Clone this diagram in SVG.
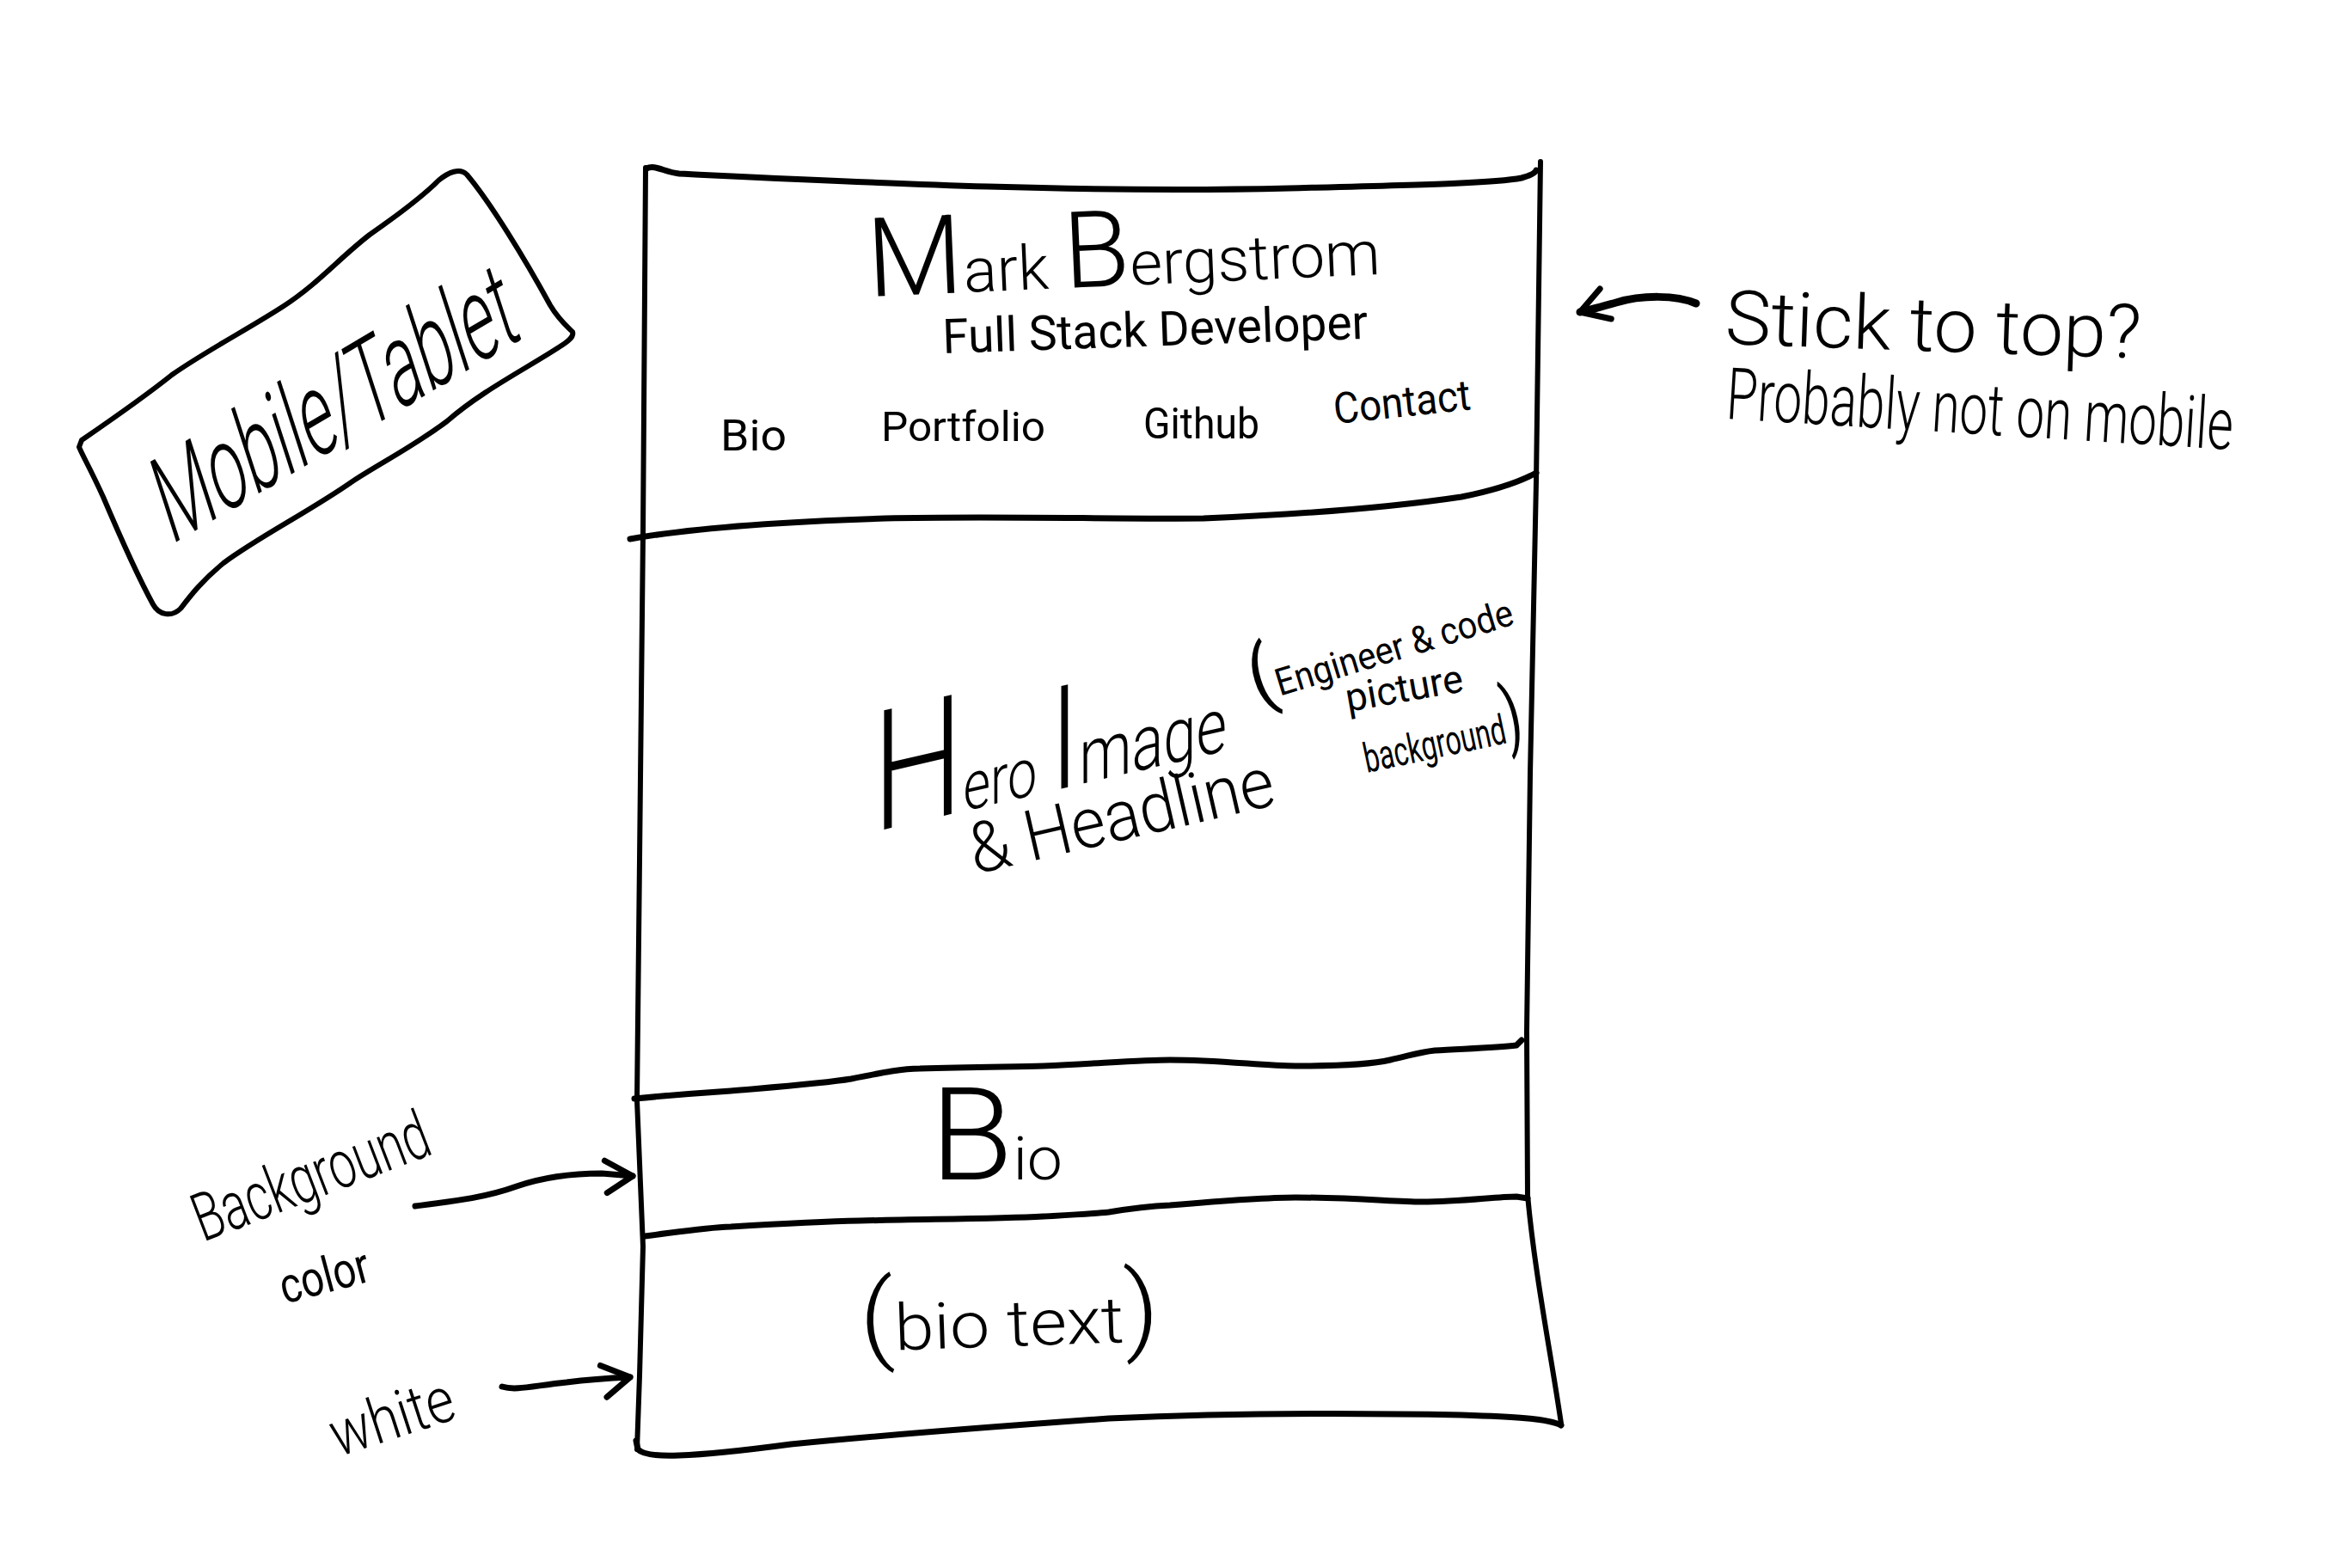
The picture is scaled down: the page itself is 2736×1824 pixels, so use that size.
<svg xmlns="http://www.w3.org/2000/svg" width="2736" height="1824" viewBox="0 0 2736 1824">
<defs>
<style>
.ln{fill:none;stroke:#000;stroke-linecap:round;stroke-linejoin:round}
.fr{stroke-width:6}
.ed{stroke-width:7}
.ar{stroke-width:7}
.hw{font-family:Roboto,"Liberation Sans","DejaVu Sans",sans-serif;font-weight:300;fill:#000}
.hs{font-family:Roboto,"Liberation Sans","DejaVu Sans",sans-serif;font-weight:400;fill:#000}
</style>
<marker id="ah" markerUnits="userSpaceOnUse" viewBox="-40 -30 50 60" refX="0" refY="0" markerWidth="50" markerHeight="60" orient="auto" overflow="visible">
<path d="M-34,-15 L0,0 L-28,22" fill="none" stroke="#000" stroke-width="7" stroke-linecap="round" stroke-linejoin="round"/>
</marker>
</defs>
<rect width="2736" height="1824" fill="#fff"/>

<g id="device-label">
<path class="ln fr" d="M95,512 C130,488 170,460 200,436 C240,408 290,382 330,356 C370,330 395,300 430,273 C470,245 495,225 510,210 C522,200 535,195 543,203 C570,235 610,300 640,355 C650,372 660,380 666,386 C668,392 660,398 650,404 C610,430 560,455 520,490 C480,520 440,540 410,560 C360,595 300,625 260,655 C235,675 220,695 210,708 C200,718 185,716 178,703 C160,670 140,625 120,578 C105,545 95,528 92,520 Z"/>
<text class="hw" font-size="138" transform="matrix(0.862 -0.508 0.309 0.951 199 634)" textLength="475" lengthAdjust="spacingAndGlyphs">Mobile/Tablet</text>
</g>

<g id="page">
<path class="ln fr" d="M751,195 L748,620 L744,1000 L741,1280 L748,1450 L744,1600 L741,1686"/>
<path class="ln fr" d="M1792,188 L1787,560 L1780,900 L1776,1200 L1777,1390 C1785,1480 1805,1580 1816,1656"/>

<g id="header">
<path class="ln ed" d="M752,196 C762,191 772,200 790,202 C1000,212 1250,225 1500,219 C1650,215 1740,213 1770,207 Q1785,203 1787,198"/>
<text class="hw" transform="rotate(-2.5 1010 345)" x="1010" y="345" textLength="597" lengthAdjust="spacingAndGlyphs"><tspan font-size="128">M</tspan><tspan font-size="72">ark </tspan><tspan font-size="124">B</tspan><tspan font-size="72">ergstrom</tspan></text>
<text class="hs" font-size="56" transform="rotate(-2 1097 411)" x="1097" y="411" textLength="495" lengthAdjust="spacingAndGlyphs">Full Stack Developer</text>
<text class="hs" font-size="50" x="838" y="524" textLength="77" lengthAdjust="spacingAndGlyphs">Bio</text>
<text class="hs" font-size="48" x="1025" y="513" textLength="191" lengthAdjust="spacingAndGlyphs">Portfolio</text>
<text class="hs" font-size="50" x="1330" y="510" textLength="135" lengthAdjust="spacingAndGlyphs">Github</text>
<text class="hs" font-size="50" transform="rotate(-6 1553 493)" x="1553" y="493" textLength="160" lengthAdjust="spacingAndGlyphs">Contact</text>
</g>

<g id="hero">
<path class="ln ed" d="M733,627 C800,615 900,607 1030,603 C1150,600 1300,604 1400,603 C1520,598 1620,590 1700,578 C1740,570 1765,562 1787,550"/>
<text class="hw" transform="translate(1015 968) skewY(-13)" x="0" y="0" textLength="412" lengthAdjust="spacingAndGlyphs"><tspan font-size="195">H</tspan><tspan font-size="80">ero </tspan><tspan font-size="168">I</tspan><tspan font-size="90">mage</tspan></text>
<text class="hs" transform="rotate(-17 1462 818)" x="1462" y="818" textLength="315" lengthAdjust="spacingAndGlyphs"><tspan font-size="90">(</tspan><tspan font-size="44">Engineer &amp; code</tspan></text>
<text class="hs" font-size="46" transform="rotate(-10 1568 828)" x="1568" y="828" textLength="138" lengthAdjust="spacingAndGlyphs">picture</text>
<text class="hs" transform="rotate(-12 1590 899)" x="1590" y="899" textLength="189" lengthAdjust="spacingAndGlyphs"><tspan font-size="48">background</tspan><tspan font-size="90">)</tspan></text>
<text class="hw" font-size="82" transform="rotate(-13 1134 1017)" x="1134" y="1017" textLength="362" lengthAdjust="spacingAndGlyphs">&amp; Headline</text>
</g>

<g id="bio">
<path class="ln ed" d="M738,1278 C780,1274 820,1271 850,1269 C920,1263 960,1260 990,1255 C1030,1247 1050,1243 1070,1243 C1130,1241 1180,1241 1214,1240 C1280,1237 1330,1233 1361,1233 C1420,1233 1470,1240 1507,1240 C1560,1240 1600,1237 1617,1233 C1640,1228 1650,1224 1669,1222 C1700,1220 1740,1219 1764,1216 L1770,1210"/>
<text class="hw" x="1082" y="1372" textLength="154" lengthAdjust="spacingAndGlyphs"><tspan font-size="150">B</tspan><tspan font-size="70">io</tspan></text>
</g>

<g id="bio-text">
<path class="ln ed" d="M750,1438 C790,1433 820,1428 850,1427 C900,1424 950,1421 1000,1420 C1080,1418 1160,1418 1214,1415 C1250,1413 1270,1412 1290,1410 C1320,1405 1340,1403 1361,1402 C1420,1397 1470,1393 1507,1393 C1580,1393 1620,1398 1654,1398 C1700,1398 1740,1392 1764,1392 L1777,1394"/>
<path class="ln ed" d="M1816,1658 C1800,1650 1760,1648 1700,1646 C1550,1643 1400,1645 1290,1650 C1150,1660 1000,1672 920,1680 C860,1688 820,1692 790,1693 C765,1694 748,1692 742,1686 L740,1676"/>
<text class="hw" transform="rotate(-2 1001 1572)" x="1001" y="1572" textLength="349" lengthAdjust="spacingAndGlyphs"><tspan font-size="115">(</tspan><tspan font-size="75">bio text</tspan><tspan font-size="115">)</tspan></text>
</g>
</g>

<g id="note-sticky">
<text class="hw" font-size="88" transform="translate(2006 400) rotate(2) scale(0.9 1)" x="0" y="0" textLength="538" lengthAdjust="spacingAndGlyphs">Stick to top?</text>
<text class="hw" font-size="84" transform="translate(2007 487) rotate(3.5) scale(0.72 1)" x="0" y="0" textLength="820" lengthAdjust="spacingAndGlyphs">Probably not on mobile</text>
</g>

<g id="note-background">
<text class="hw" font-size="78" transform="rotate(-21 236 1445)" x="236" y="1445" textLength="289" lengthAdjust="spacingAndGlyphs">Background</text>
<text class="hs" font-size="58" transform="rotate(-15 331 1517)" x="331" y="1517" textLength="106" lengthAdjust="spacingAndGlyphs">color</text>
</g>

<g id="note-white">
<text class="hw" font-size="74" transform="rotate(-18 393 1695)" x="393" y="1695" textLength="148" lengthAdjust="spacingAndGlyphs">white</text>
</g>

<g id="connectors">
<path class="ln" stroke-width="9" marker-end="url(#ah)" d="M1973,353 C1950,343 1910,343 1880,352 C1862,357 1848,361 1838,363"/>
<path class="ln ar" marker-end="url(#ah)" d="M483,1403 C530,1397 565,1393 601,1380 C630,1370 660,1365 700,1365 L736,1368"/>
<path class="ln ar" marker-end="url(#ah)" d="M584,1613 C600,1618 620,1612 659,1608 C690,1604 710,1603 733,1602"/>
</g>
</svg>
